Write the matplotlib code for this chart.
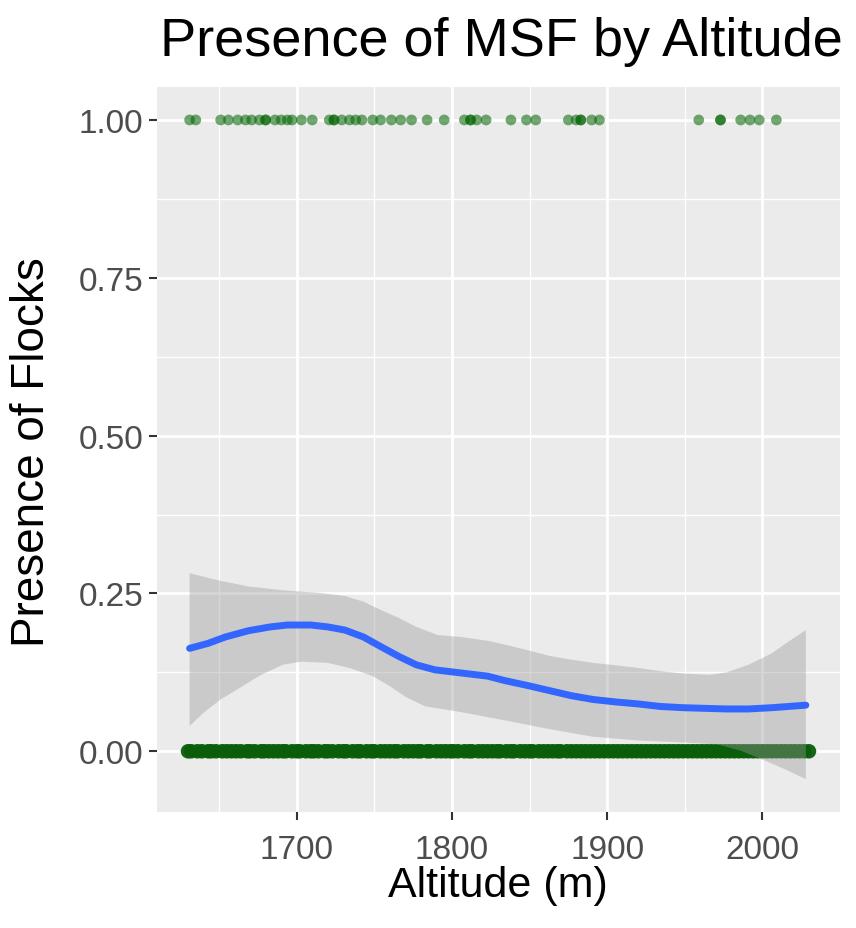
import matplotlib
import matplotlib.pyplot as plt
matplotlib.use('Agg')

plt.rcParams['font.family'] = ['Liberation Sans', 'DejaVu Sans']

# altitudes (m) where flocks were present (y = 1)
present_alt = [1631, 1635, 1651, 1656, 1662, 1667, 1671, 1676, 1680, 1680,
               1686, 1690, 1694, 1697, 1703, 1710, 1721, 1724, 1724, 1729,
               1734, 1738, 1742, 1749, 1754, 1761, 1767, 1774, 1784, 1795,
               1808, 1812, 1812, 1816, 1822, 1838, 1848, 1854, 1875, 1880,
               1883, 1883, 1890, 1895, 1959, 1973, 1973, 1986, 1992, 1998,
               2009]

# altitudes (m) where flocks were absent (y = 0)
absent_alt = [1630, 1632, 1636, 1639, 1643, 1645, 1648, 1652, 1655, 1658,
              1661, 1664, 1668, 1670, 1673, 1677, 1679, 1682, 1685, 1688,
              1691, 1693, 1697, 1700, 1702, 1706, 1709, 1711, 1714, 1718,
              1720, 1723, 1727, 1730, 1732, 1736, 1739, 1741, 1745, 1748,
              1750, 1754, 1757, 1760, 1763, 1765, 1769, 1772, 1775, 1778,
              1780, 1784, 1786, 1790, 1793, 1796, 1799, 1801, 1804, 1808,
              1811, 1813, 1817, 1820, 1823, 1826, 1829, 1831, 1835, 1838,
              1840, 1844, 1847, 1850, 1852, 1856, 1859, 1862, 1865, 1868,
              1870, 1874, 1877, 1880, 1883, 1886, 1889, 1892, 1895, 1898,
              1901, 1904, 1907, 1910, 1913, 1916, 1919, 1922, 1925, 1928,
              1931, 1934, 1937, 1940, 1943, 1946, 1949, 1952, 1955, 1958,
              1961, 1964, 1967, 1970, 1973, 1976, 1979, 1982, 1985, 1988,
              1991, 1994, 1997, 2000, 2003, 2006, 2009, 2012, 2015, 2018,
              2021, 2024, 2027, 2030]

# loess fit
fit_alt = [1631, 1643, 1654, 1669, 1683, 1694, 1709, 1720, 1731, 1743,
           1754, 1766, 1777, 1789, 1806, 1823, 1834, 1849, 1863, 1877,
           1891, 1906, 1920, 1934, 1949, 1963, 1977, 1991, 2006, 2017,
           2028]
fit_y = [0.163, 0.171, 0.181, 0.191, 0.197, 0.200, 0.200, 0.197, 0.192, 0.181,
         0.166, 0.150, 0.137, 0.129, 0.124, 0.119, 0.112, 0.104, 0.096, 0.088,
         0.082, 0.078, 0.075, 0.071, 0.069, 0.068, 0.067, 0.067, 0.069, 0.071,
         0.073]

hi_alt = [1631, 1649, 1669, 1691, 1714, 1731, 1743, 1754, 1766, 1777,
          1791, 1806, 1823, 1834, 1849, 1863, 1877, 1891, 1906, 1920,
          1934, 1949, 1966, 1977, 1991, 2006, 2017, 2028]
band_hi = [0.282, 0.271, 0.261, 0.255, 0.251, 0.246, 0.237, 0.224, 0.211, 0.197,
           0.184, 0.181, 0.175, 0.169, 0.160, 0.151, 0.145, 0.140, 0.136, 0.132,
           0.127, 0.123, 0.121, 0.125, 0.137, 0.155, 0.174, 0.192]

lo_alt = [1631, 1640, 1651, 1663, 1677, 1691, 1703, 1720, 1734, 1749,
          1760, 1771, 1783, 1806, 1834, 1863, 1891, 1920, 1949, 1971,
          1986, 2000, 2014, 2028]
band_lo = [0.040, 0.061, 0.082, 0.100, 0.121, 0.137, 0.142, 0.140, 0.132, 0.119,
           0.103, 0.085, 0.071, 0.062, 0.049, 0.035, 0.023, 0.017, 0.014, 0.011,
           0.001, -0.013, -0.028, -0.044]

x_ticks = [1700, 1800, 1900, 2000]
x_minor = [1650, 1750, 1850, 1950]
y_ticks = [0.0, 0.25, 0.5, 0.75, 1.0]
y_labels = ["0.00", "0.25", "0.50", "0.75", "1.00"]
y_minor = [0.125, 0.375, 0.625, 0.875]


def main():
    fig = plt.figure(figsize=(8.56, 9.29), dpi=100)
    ax = fig.add_axes([157 / 856, 1 - 813 / 929, 683 / 856, 725 / 929])
    ax.set_facecolor('#EBEBEB')
    for s in ax.spines.values():
        s.set_visible(False)

    for v in x_minor:
        ax.axvline(v, color='white', lw=1.0, zorder=0)
    for v in y_minor:
        ax.axhline(v, color='white', lw=1.0, zorder=0)
    for v in x_ticks:
        ax.axvline(v, color='white', lw=2.0, zorder=0)
    for v in y_ticks:
        ax.axhline(v, color='white', lw=2.0, zorder=0)

    ax.scatter(present_alt, [1] * len(present_alt), s=60, color='#006400',
               alpha=0.55, edgecolors='none', zorder=2)
    ax.scatter(absent_alt, [0] * len(absent_alt), s=110, color='#0A5E0A',
               alpha=0.95, edgecolors='none', zorder=2)

    # the ribbon: upper and lower edges were read at different altitudes
    poly_x = hi_alt + lo_alt[::-1]
    poly_y = band_hi + band_lo[::-1]
    ax.fill(poly_x, poly_y, color='#999999', alpha=0.4, lw=0, zorder=3)
    ax.plot(fit_alt, fit_y, color='#3366FF', lw=5, solid_capstyle='round',
            zorder=4)

    xmin = min(absent_alt + present_alt)
    xmax = max(absent_alt + present_alt)
    xr = xmax - xmin
    ax.set_xlim(xmin - 0.05 * xr, xmax + 0.05 * xr)
    ymin = min(band_lo + [0])
    yr = 1 - ymin
    ax.set_ylim(ymin - 0.05 * yr, 1 + 0.05 * yr)

    ax.set_xticks(x_ticks)
    ax.set_xticklabels([str(t) for t in x_ticks])
    ax.set_yticks(y_ticks)
    ax.set_yticklabels(y_labels)
    ax.tick_params(axis='both', length=6, width=1.5, color='#333333',
                   labelcolor='#4D4D4D', labelsize=24)
    ax.tick_params(axis='x', pad=10)
    ax.tick_params(axis='y', pad=4)

    fig.text(498 / 856, 1 - 886 / 929, "Altitude (m)", fontsize=31,
             ha='center', va='center')
    fig.text(32 / 856, 1 - 452 / 929, "Presence of Flocks", fontsize=33,
             ha='center', va='center', rotation=90)
    fig.text(160 / 856, 1 - 56 / 929, "Presence of MSF by Altitude",
             fontsize=39, ha='left', va='baseline')

    fig.savefig("out.png", dpi=100)


if __name__ == "__main__":
    main()
